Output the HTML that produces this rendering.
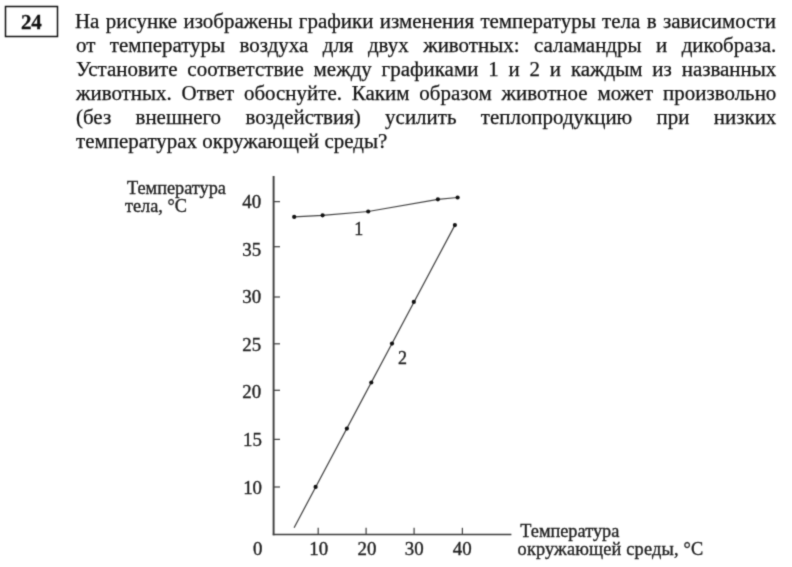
<!DOCTYPE html>
<html lang="ru">
<head>
<meta charset="utf-8">
<title>24</title>
<style>
html,body{margin:0;padding:0;background:#fff;}
body{filter:url(#bl);width:792px;height:567px;position:relative;overflow:hidden;font-family:"Liberation Serif","DejaVu Serif",serif;color:#111;}
.num{position:absolute;left:5px;top:6.8px;width:50.4px;height:31px;transform:scaleX(1.047);transform-origin:0 0;text-align:center;font-weight:bold;font-size:20px;line-height:31px;-webkit-text-stroke:0.3px #111;}
.ln{-webkit-text-stroke:0.25px #111;position:absolute;left:75.8px;width:668.9px;transform:scaleX(1.047);transform-origin:0 0;font-size:20px;line-height:24px;height:24px;text-align:justify;text-align-last:justify;white-space:nowrap;}
.ln.last{text-align:left;text-align-last:left;}
svg{position:absolute;left:0;top:0;}
svg text{font-family:"Liberation Serif","DejaVu Serif",serif;fill:#1e1e1e;stroke:#1e1e1e;stroke-width:0.35px;}
svg .sx text{transform-box:fill-box;transform-origin:center;transform:scaleX(1.05);}
</style>
</head>
<body>
<svg width="0" height="0" style="position:absolute"><filter id="bl" x="0" y="0" width="100%" height="100%" color-interpolation-filters="sRGB"><feConvolveMatrix order="3" kernelMatrix="0.03 0.1 0.03 0.1 0.48 0.1 0.03 0.1 0.03" edgeMode="duplicate" preserveAlpha="true"/></filter></svg>
<div class="num">24</div>
<div class="ln" style="top:9.3px;left:75.4px;width:669.5px">На рисунке изображены графики изменения температуры тела в зависимости</div>
<div class="ln" style="top:33.3px">от температуры воздуха для двух животных: саламандры и дикобраза.</div>
<div class="ln" style="top:57.3px">Установите соответствие между графиками 1 и 2 и каждым из названных</div>
<div class="ln" style="top:81.3px">животных. Ответ обоснуйте. Каким образом животное может произвольно</div>
<div class="ln" style="top:105.3px">(без внешнего воздействия) усилить теплопродукцию при низких</div>
<div class="ln last" style="top:129.3px;left:76.3px">температурах окружающей среды?</div>

<svg width="792" height="567" viewBox="0 0 792 567">
  <rect x="5.5" y="6.5" width="52" height="30" fill="none" stroke="#111" stroke-width="1.5"/>
  <!-- axes -->
  <g stroke="#3c3c3c" fill="none">
    <line x1="273.6" y1="176" x2="273.6" y2="535.3" stroke-width="1.9"/>
    <line x1="272.8" y1="534.5" x2="511.4" y2="534.5" stroke-width="1.6"/>
  </g>
  <g stroke="#444" stroke-width="1.25" fill="none">
    <line x1="273.6" y1="201.6" x2="280" y2="201.6"/>
    <line x1="273.6" y1="246.7" x2="280" y2="246.7"/>
    <line x1="273.6" y1="297" x2="280" y2="297"/>
    <line x1="273.6" y1="343.8" x2="280" y2="343.8"/>
    <line x1="273.6" y1="390.3" x2="280" y2="390.3"/>
    <line x1="273.6" y1="439.4" x2="280" y2="439.4"/>
    <line x1="273.6" y1="487" x2="280" y2="487"/>
    <line x1="318.2" y1="527.8" x2="318.2" y2="534.5"/>
    <line x1="366.1" y1="527.8" x2="366.1" y2="534.5"/>
    <line x1="414.1" y1="527.8" x2="414.1" y2="534.5"/>
    <line x1="462.4" y1="527.8" x2="462.4" y2="534.5"/>
  </g>
  <!-- curves -->
  <g stroke="#444" stroke-width="1.25" fill="none" stroke-linejoin="round">
    <polyline points="294.2,216.9 322.6,215.3 368.2,211.5 437.9,199.3 457.6,197.5"/>
    <line x1="294.1" y1="527.7" x2="454.9" y2="225.1"/>
  </g>
  <g fill="#111">
    <circle cx="294.2" cy="216.9" r="2.1"/>
    <circle cx="322.6" cy="215.3" r="2.1"/>
    <circle cx="368.2" cy="211.5" r="2.1"/>
    <circle cx="437.9" cy="199.3" r="2.1"/>
    <circle cx="457.6" cy="197.5" r="2.1"/>
    <circle cx="454.9" cy="225.1" r="2.1"/>
    <circle cx="413.8" cy="301.9" r="2.1"/>
    <circle cx="392" cy="343.6" r="2.1"/>
    <circle cx="371.3" cy="382.5" r="2.1"/>
    <circle cx="346.9" cy="428.6" r="2.1"/>
    <circle cx="315.6" cy="486.9" r="2.1"/>
  </g>
  <!-- labels -->
  <g font-size="18" text-anchor="middle" class="sx">
    <text x="251.8" y="208">40</text>
    <text x="251.8" y="256">35</text>
    <text x="251.8" y="303.3">30</text>
    <text x="251.8" y="350.8">25</text>
    <text x="251.8" y="398.4">20</text>
    <text x="252.4" y="446">15</text>
    <text x="252.6" y="493.6">10</text>
    <text x="257.8" y="555.2">0</text>
    <text x="318.8" y="555.2">10</text>
    <text x="367" y="555.2">20</text>
    <text x="414.2" y="555.2">30</text>
    <text x="462.2" y="555.2">40</text>
  </g>
  <g font-size="18" text-anchor="middle">
    <text x="358.8" y="234.7">1</text>
    <text x="402.5" y="364.2">2</text>
  </g>
  <g font-size="18.3" text-anchor="start">
    <text x="127" y="193.8">Температура</text>
    <text x="125" y="211.8">тела, °С</text>
    <text x="520.3" y="536.5">Температура</text>
    <text x="517.6" y="555.1" textLength="185.5" lengthAdjust="spacing">окружающей среды, °С</text>
  </g>
</svg>
</body>
</html>
